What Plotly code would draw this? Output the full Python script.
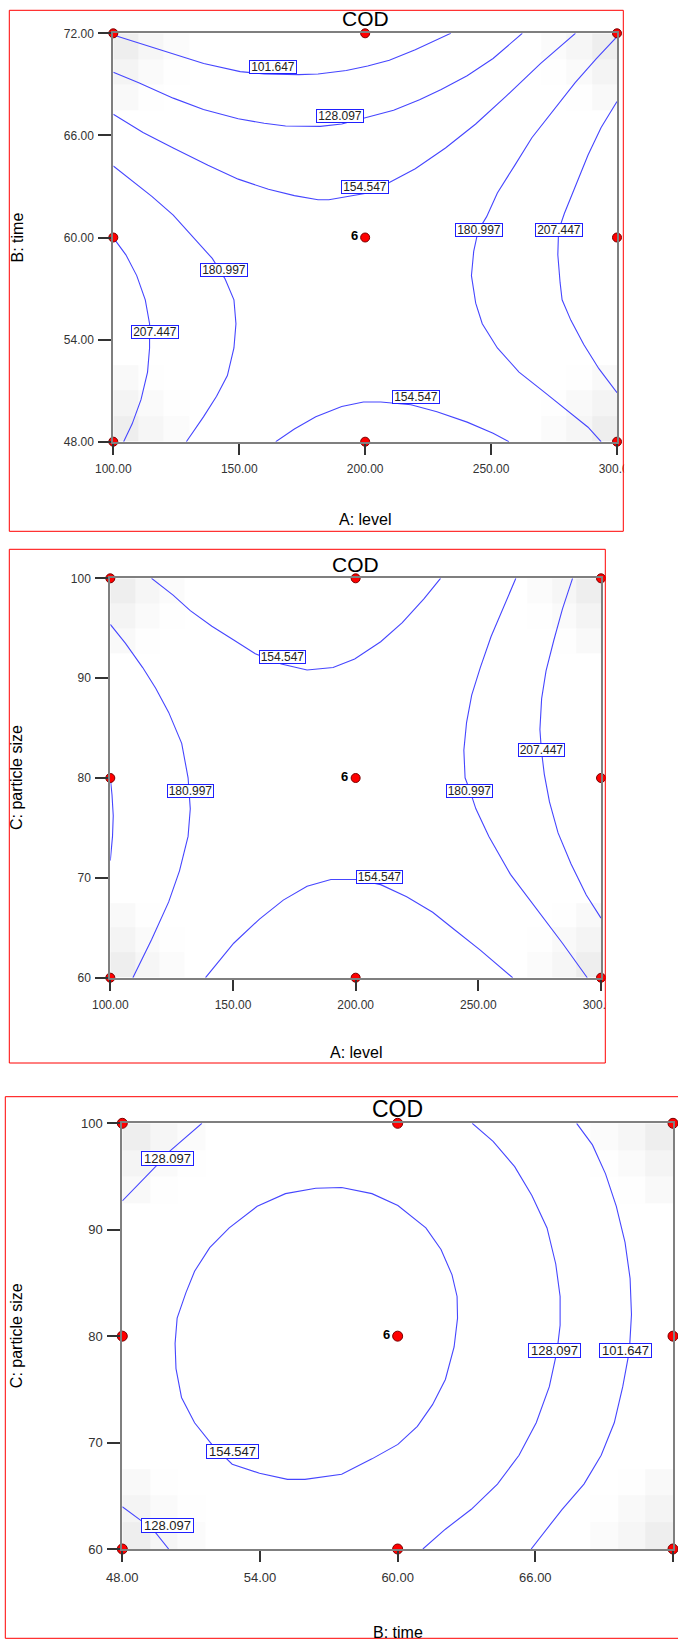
import plotly.graph_objects as go

W, H = 678, 1645

# ---------------- data ----------------
# Panel 1: A: level (x) vs B: time (y)
p1_c101_A = [100, 120.4, 135.9, 150.4, 159.9, 173.6, 181.3, 192.5, 201.0, 209.6, 219.9, 234.0]
p1_c101_B = [71.9, 70.93, 70.22, 69.75, 69.61, 69.57, 69.61, 69.81, 70.08, 70.42, 71.03, 72.0]
p1_c128_A = [100, 110.1, 123.8, 135.8, 149.6, 159.9, 168.4, 182.2, 190.7, 201.0, 211.3, 221.6, 230.2, 240.5, 250.8, 262.4]
p1_c128_B = [69.71, 69.10, 68.19, 67.52, 66.98, 66.71, 66.55, 66.53, 66.67, 67.08, 67.48, 68.09, 68.70, 69.51, 70.52, 72.0]
p1_c154t_A = [100, 111.8, 123.8, 137.6, 149.6, 161.6, 171.9, 181.3, 185.6, 192.5, 201.0, 209.6, 219.9, 231.9, 243.9, 255.9, 269.6, 283.5]
p1_c154t_B = [67.24, 66.17, 65.26, 64.24, 63.43, 62.83, 62.46, 62.22, 62.22, 62.38, 62.62, 63.23, 64.04, 65.26, 66.67, 68.29, 70.22, 72.0]
p1_c181l_A = [100, 106.7, 115.3, 123.8, 130.7, 139.3, 144.4, 147.9, 148.7, 147.9, 145.3, 141.0, 135.8, 129.0]
p1_c181l_B = [64.20, 63.43, 62.42, 61.31, 60.19, 58.77, 57.56, 56.34, 54.93, 53.51, 51.89, 50.67, 49.46, 48.0]
p1_c207l_A = [100, 105.0, 109.3, 112.7, 114.4, 114.4, 113.6, 111.0, 107.5, 104.1]
p1_c207l_B = [59.99, 58.98, 57.76, 56.34, 54.93, 53.51, 52.09, 50.47, 49.05, 48.0]
p1_c154b_A = [164.5, 171.9, 180.4, 190.7, 199.3, 206.2, 218.2, 228.5, 240.5, 250.8, 257.1]
p1_c154b_B = [48.0, 48.75, 49.46, 50.07, 50.33, 50.33, 50.17, 49.76, 49.15, 48.49, 48.0]
p1_c181r_A = [300, 291.9, 283.4, 274.8, 266.2, 259.4, 252.5, 248.2, 244.9, 243.1, 242.2, 243.9, 246.5, 252.5, 261.1, 271.4, 281.7, 288.5, 293.7]
p1_c181r_B = [71.8, 70.52, 69.10, 67.48, 65.86, 64.24, 62.62, 61.21, 60.42, 59.18, 57.76, 56.14, 54.93, 53.51, 52.09, 50.88, 49.66, 48.85, 48.0]
p1_c207r_A = [300, 293.7, 288.5, 283.4, 279.1, 276.8, 276.5, 277.4, 278.2, 281.7, 286.8, 292.8, 300]
p1_c207r_B = [67.99, 66.47, 64.85, 63.03, 61.41, 60.42, 58.98, 57.36, 56.34, 55.13, 53.71, 52.29, 50.88]
p1_lab_text = ["101.647", "128.097", "154.547", "180.997", "207.447", "180.997", "207.447", "154.547"]
p1_lab_A = [163.5, 190.0, 200.1, 245.1, 277.0, 143.9, 116.4, 220.3]
p1_lab_B = [70.04, 67.14, 62.98, 60.42, 60.42, 58.07, 54.42, 50.60]
p1_pts_A = [100, 200, 300, 100, 200, 300, 100, 200, 300]
p1_pts_B = [72, 72, 72, 60, 60, 60, 48, 48, 48]
p1_shade_A = [100, 110, 120, 130, 270, 280, 290, 300]
p1_shade_B = [48, 49.5, 51, 52.5, 67.5, 69, 70.5, 72]

# Panel 2: A: level (x) vs C: particle size (y)
p2_c154t_A = [116.8, 125.6, 132.6, 141.4, 150.3, 159.1, 169.7, 180.2, 190.8, 199.6, 210.2, 219.0, 227.9, 234.6]
p2_c154t_C = [100, 98.31, 96.76, 95.20, 93.82, 92.44, 91.41, 90.82, 91.06, 91.92, 93.65, 95.55, 97.96, 100]
p2_c181l_A = [100, 106.2, 113.2, 118.5, 123.8, 129.1, 131.7, 132.6, 131.7, 128.2, 123.8, 116.8, 109.2]
p2_c181l_C = [95.38, 93.48, 91.06, 88.99, 86.57, 83.47, 80.02, 76.91, 74.15, 70.70, 67.59, 63.80, 60]
p2_c207l_A = [100, 100.7, 101.2, 100.9, 100]
p2_c207l_C = [80.02, 78.29, 76.22, 74.15, 71.73]
p2_c181r_A = [265.3, 260.5, 255.2, 250.8, 247.3, 245.2, 244.1, 244.6, 246.6, 249.0, 254.3, 263.1, 273.7, 284.3, 294.4]
p2_c181r_C = [100, 97.27, 94.17, 91.06, 88.30, 85.54, 82.78, 80.02, 78.71, 76.91, 74.15, 70.35, 66.90, 63.45, 60]
p2_c207r_A = [288.4, 284.3, 280.8, 277.6, 275.8, 275.1, 275.7, 276.9, 279.0, 282.5, 287.8, 294.0, 300]
p2_c207r_C = [100, 96.93, 93.82, 90.72, 87.95, 84.85, 82.78, 80.37, 77.60, 74.50, 71.39, 68.28, 65.97]
p2_c154b_A = [138.8, 150.3, 160.8, 170.5, 180.2, 189.9, 200.5, 210.2, 220.8, 231.4, 240.2, 250.8, 264.0]
p2_c154b_C = [60, 63.45, 65.87, 67.77, 69.15, 69.84, 69.84, 69.32, 68.11, 66.56, 64.83, 62.76, 60]
p2_lab_text = ["154.547", "180.997", "180.997", "207.447", "154.547"]
p2_lab_A = [170.0, 132.5, 246.6, 275.7, 209.9]
p2_lab_C = [92.08, 78.71, 78.71, 82.76, 70.06]
p2_pts_A = [100, 200, 300, 100, 200, 300, 100, 200, 300]
p2_pts_C = [100, 100, 100, 80, 80, 80, 60, 60, 60]
p2_shade_A = [100, 110, 120, 130, 270, 280, 290, 300]
p2_shade_C = [60, 62.5, 65, 67.5, 92.5, 95, 97.5, 100]

# Panel 3: B: time (x) vs C: particle size (y)
p3_c128tl_B = [48, 48.70, 49.45, 50.02, 50.58, 51.47]
p3_c128tl_C = [92.71, 94.24, 95.93, 97.29, 98.31, 100]
p3_c128bl_B = [48, 48.79, 49.45, 50.02]
p3_c128bl_C = [63.97, 62.71, 61.53, 60]
p3_c154_B = [57.56, 58.88, 60.01, 61.23, 61.89, 62.37, 62.59, 62.61, 62.46, 62.08, 61.52, 60.86, 60.01, 58.88,
             57.56, 55.96, 55.20, 53.98, 52.79, 51.90, 51.15, 50.58, 50.34, 50.30, 50.39, 50.77, 51.15, 51.81,
             52.66, 53.88, 55.11, 56.43, 57.56]
p3_c154_C = [93.97, 93.39, 92.27, 90.17, 88.14, 85.76, 83.73, 81.69, 78.98, 75.93, 73.56, 71.53, 69.83, 68.47,
             67.02, 66.54, 66.54, 67.12, 67.97, 69.83, 71.86, 74.24, 76.95, 79.32, 81.69, 84.07, 86.10, 88.31,
             90.17, 92.20, 93.39, 93.90, 93.97]
p3_c128r_B = [63.25, 64.16, 65.10, 65.85, 66.51, 66.89, 67.08, 67.08, 66.95, 66.61, 66.04, 65.29, 64.35, 63.21, 62.08, 61.10]
p3_c128r_C = [100, 98.31, 95.93, 93.22, 90.17, 86.78, 83.73, 81.02, 78.64, 75.25, 71.86, 68.81, 66.10, 63.73, 61.86, 60]
p3_c101_B = [67.80, 68.49, 69.06, 69.53, 69.91, 70.13, 70.19, 70.10, 69.81, 69.44, 68.87, 68.12, 67.17, 66.42, 65.82]
p3_c101_C = [100, 97.97, 95.25, 92.20, 88.81, 85.42, 82.03, 78.64, 75.25, 71.86, 68.81, 66.10, 63.73, 61.69, 60]
p3_lab_text = ["128.097", "154.547", "128.097", "128.097", "101.647"]
p3_lab_B = [49.98, 52.80, 49.98, 66.85, 69.95]
p3_lab_C = [96.73, 69.17, 62.17, 78.66, 78.66]
p3_pts_B = [48, 60, 72, 48, 60, 72, 48, 60, 72]
p3_pts_C = [100, 100, 100, 80, 80, 80, 60, 60, 60]
p3_shade_B = [48, 49.2, 50.4, 51.6, 68.4, 69.6, 70.8, 72]
p3_shade_C = [60, 62.5, 65, 67.5, 92.5, 95, 97.5, 100]

# faint grey shading near the design-space corners (rows bottom->top, cols left->right)
corner_shade = [
    [0.9, 0.5, 0.2, 0, 0.2, 0.5, 0.9],
    [0.6, 0.25, 0.05, 0, 0.05, 0.3, 0.6],
    [0.3, 0.05, 0, 0, 0, 0.05, 0.3],
    [0, 0, 0, 0, 0, 0, 0],
    [0.3, 0.05, 0, 0, 0, 0.05, 0.3],
    [0.6, 0.25, 0.05, 0, 0.05, 0.25, 0.6],
    [0.9, 0.5, 0.2, 0, 0.2, 0.5, 0.9],
]

center_label = "6"
title_text = "COD"
x_titles = ["A: level", "A: level", "B: time"]
y_titles = ["B: time", "C: particle size", "C: particle size"]
p1_xticks = [100, 150, 200, 250, 300]
p1_yticks = [48, 54, 60, 66, 72]
p2_xticks = [100, 150, 200, 250, 300]
p2_yticks = [60, 70, 80, 90, 100]
p3_xticks = [48, 54, 60, 66, 72]
p3_yticks = [60, 70, 80, 90, 100]

# ---------------- styling ----------------
NARROW = "Liberation Sans Narrow, Arial Narrow, Liberation Sans, Arial, sans-serif"
ARIAL = "Liberation Sans, Arial, sans-serif"
LINE_BLUE = "rgb(70,70,255)"

fig = go.Figure()


def px_dom_x(a, b):
    return [a / W, b / W]


def px_dom_y(top, bottom):
    return [1 - bottom / H, 1 - top / H]


panels = [
    dict(xa="x", ya="y", xd=px_dom_x(113.3, 617.0), yd=px_dom_y(33.3, 441.7),
         xr=[100, 300], yr=[48, 72], xt=p1_xticks, yt=p1_yticks, xfmt=".2f", yfmt=".2f",
         lines=[(p1_c101_A, p1_c101_B), (p1_c128_A, p1_c128_B), (p1_c154t_A, p1_c154t_B),
                (p1_c181l_A, p1_c181l_B), (p1_c207l_A, p1_c207l_B), (p1_c154b_A, p1_c154b_B),
                (p1_c181r_A, p1_c181r_B), (p1_c207r_A, p1_c207r_B)],
         labs=(p1_lab_text, p1_lab_A, p1_lab_B), pts=(p1_pts_A, p1_pts_B), ctr=(200, 60),
         shade=(p1_shade_A, p1_shade_B),
         frame=(9.3, 10.3, 623.3, 531.3), title_y=19, xtitle_y=519, ytitle_x=17,
         fs_tick=12, fs_lab=12, bw=46, bh=12, msize=9, fs_title=21),
    dict(xa="x2", ya="y2", xd=px_dom_x(110.3, 601.0), yd=px_dom_y(578.3, 977.7),
         xr=[100, 300], yr=[60, 100], xt=p2_xticks, yt=p2_yticks, xfmt=".2f", yfmt="d",
         lines=[(p2_c154t_A, p2_c154t_C), (p2_c181l_A, p2_c181l_C), (p2_c207l_A, p2_c207l_C),
                (p2_c181r_A, p2_c181r_C), (p2_c207r_A, p2_c207r_C), (p2_c154b_A, p2_c154b_C)],
         labs=(p2_lab_text, p2_lab_A, p2_lab_C), pts=(p2_pts_A, p2_pts_C), ctr=(200, 80),
         shade=(p2_shade_A, p2_shade_C),
         frame=(9.3, 549.3, 605.3, 1063.0), title_y=564, xtitle_y=1052, ytitle_x=17,
         fs_tick=12, fs_lab=12, bw=45, bh=12, msize=9, fs_title=21),
    dict(xa="x3", ya="y3", xd=px_dom_x(122.3, 673.0), yd=px_dom_y(1123.3, 1549.0),
         xr=[48, 72], yr=[60, 100], xt=p3_xticks, yt=p3_yticks, xfmt=".2f", yfmt="d",
         lines=[(p3_c128tl_B, p3_c128tl_C), (p3_c128bl_B, p3_c128bl_C), (p3_c154_B, p3_c154_C),
                (p3_c128r_B, p3_c128r_C), (p3_c101_B, p3_c101_C)],
         labs=(p3_lab_text, p3_lab_B, p3_lab_C), pts=(p3_pts_B, p3_pts_C), ctr=(60, 80),
         shade=(p3_shade_B, p3_shade_C),
         frame=(5.3, 1096.7, 700.0, 1638.3), title_y=1109, xtitle_y=1632, ytitle_x=16,
         fs_tick=13, fs_lab=13, bw=51, bh=13, msize=10, fs_title=23),
]

annotations = []
shapes = []
for i, p in enumerate(panels):
    # faint corner shading
    fig.add_trace(go.Heatmap(x=p["shade"][0], y=p["shade"][1], z=corner_shade, xaxis=p["xa"], yaxis=p["ya"],
                             colorscale=[[0, "#ffffff"], [1, "#ececec"]], zmin=0, zmax=1,
                             showscale=False, hoverinfo="skip", zsmooth=False))
    # contour lines
    for xs, ys in p["lines"]:
        fig.add_trace(go.Scatter(x=xs, y=ys, mode="lines", xaxis=p["xa"], yaxis=p["ya"],
                                 line=dict(color=LINE_BLUE, width=1.1), hoverinfo="skip",
                                 showlegend=False))
    # design points
    fig.add_trace(go.Scatter(x=p["pts"][0], y=p["pts"][1], mode="markers", xaxis=p["xa"], yaxis=p["ya"],
                             marker=dict(color="#ff0000", size=p["msize"], line=dict(color="#7a0000", width=1)),
                             cliponaxis=False, showlegend=False, hoverinfo="skip"))
    # contour labels
    texts, lx, ly = p["labs"]
    for t, xv, yv in zip(texts, lx, ly):
        annotations.append(dict(x=xv, y=yv, xref=p["xa"], yref=p["ya"], text=t, showarrow=False,
                                font=dict(family=ARIAL, size=p["fs_lab"], color="#222222"),
                                bgcolor="white", bordercolor="#2020ff", borderwidth=1, borderpad=0,
                                width=p["bw"], height=p["bh"], align="center", valign="middle"))
    # center replicate count
    annotations.append(dict(x=p["ctr"][0], y=p["ctr"][1], xref=p["xa"], yref=p["ya"],
                            text="<b>" + center_label + "</b>", showarrow=False, xshift=-11, yshift=2,
                            font=dict(family=ARIAL, size=13, color="black")))
    fx0, fy0, fx1, fy1 = p["frame"]
    cx = (p["xd"][0] + p["xd"][1]) / 2
    # title
    annotations.append(dict(x=cx, y=1 - p["title_y"] / H, xref="paper", yref="paper", text=title_text,
                            showarrow=False, xanchor="center", yanchor="middle",
                            font=dict(family=ARIAL, size=p["fs_title"], color="black")))
    # x title
    annotations.append(dict(x=cx, y=1 - p["xtitle_y"] / H, xref="paper", yref="paper", text=x_titles[i],
                            showarrow=False, xanchor="center", yanchor="middle",
                            font=dict(family=ARIAL, size=16, color="black")))
    # y title
    cy = (p["yd"][0] + p["yd"][1]) / 2
    annotations.append(dict(x=p["ytitle_x"] / W, y=cy, xref="paper", yref="paper", text=y_titles[i],
                            showarrow=False, xanchor="center", yanchor="middle", textangle=-90,
                            font=dict(family=ARIAL, size=16, color="black")))
    # white mask right of the frame (source image was cropped there), then red frame
    if fx1 < W:
        shapes.append(dict(type="rect", xref="paper", yref="paper", x0=(fx1 + 0.8) / W, x1=1.05,
                           y0=1 - (fy1 + 1) / H, y1=1 - (fy0 - 1) / H, line=dict(width=0),
                           fillcolor="white", layer="above"))
    shapes.append(dict(type="rect", xref="paper", yref="paper", x0=fx0 / W, x1=fx1 / W,
                       y0=1 - fy1 / H, y1=1 - fy0 / H, line=dict(color="#ff0000", width=1),
                       fillcolor="rgba(0,0,0,0)", layer="above"))

    axis_common = dict(showline=True, mirror=True, linecolor="#7f7f7f", linewidth=2, showgrid=False,
                       zeroline=False, ticks="outside", tickcolor="#333333", tickwidth=1.5,
                       automargin=False,
                       tickfont=dict(family=ARIAL, size=p["fs_tick"], color="#333333"))
    xkey = "xaxis" if i == 0 else "xaxis%d" % (i + 1)
    ykey = "yaxis" if i == 0 else "yaxis%d" % (i + 1)
    fig.update_layout(**{
        xkey: dict(domain=p["xd"], range=p["xr"], tickvals=p["xt"], tickformat=p["xfmt"],
                   anchor=p["ya"], ticklen=11, ticklabelstandoff=4, **axis_common),
        ykey: dict(domain=p["yd"], range=p["yr"], tickvals=p["yt"], tickformat=p["yfmt"],
                   anchor=p["xa"], ticklen=13, ticklabelstandoff=2, **axis_common),
    })

fig.update_layout(width=W, height=H, margin=dict(l=0, r=0, t=0, b=0, pad=0, autoexpand=False),
                  paper_bgcolor="white", plot_bgcolor="white", showlegend=False,
                  annotations=annotations, shapes=shapes)

fig.write_html("out.html")
